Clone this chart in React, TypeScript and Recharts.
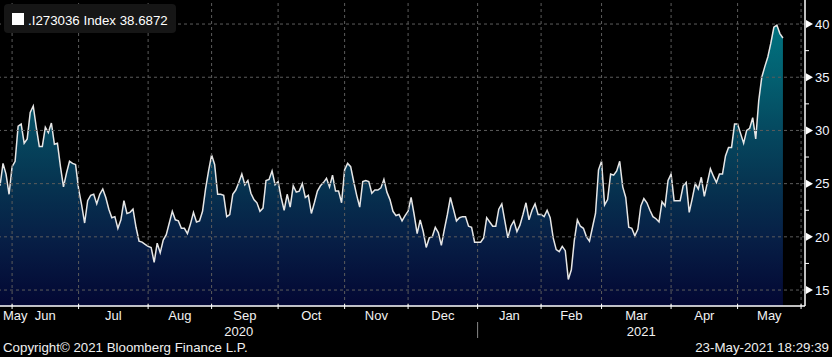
import React from "react";
import { AreaChart, Area, XAxis, YAxis, ReferenceLine } from "recharts";

// Daily (weekday) index values, 26-May-2020 .. 21-May-2021
const values = [
  24.8, 26.9, 25.9, 24.0, 26.6, 27.1, 30.4, 30.6, 28.8, 29.2,
  31.7, 32.3, 30.3, 28.5, 28.5, 30.3, 29.8, 30.7, 28.7, 28.8,
  26.6, 24.7, 26.0, 27.1, 26.9, 26.8, 24.5, 23.0, 21.3, 23.4,
  23.9, 24.0, 23.1, 24.0, 24.5, 23.7, 22.6, 21.8, 21.9, 20.8,
  21.6, 23.4, 22.2, 22.3, 22.6, 20.9, 19.6, 19.5, 19.3, 19.1,
  19.0, 17.6, 19.4, 18.5, 19.7, 20.2, 21.3, 22.4, 21.6, 21.5,
  20.8, 20.8, 20.3, 21.2, 22.3, 21.4, 21.5, 22.4, 24.5, 26.2,
  27.7, 26.8, 24.0, 24.0, 23.9, 21.9, 22.1, 24.0, 24.4, 25.1,
  25.9, 24.9, 25.3, 24.1, 23.5, 23.2, 22.4, 22.7, 25.3, 25.4,
  26.2, 24.9, 25.2, 23.7, 22.5, 24.0, 22.8, 24.8, 24.2, 24.3,
  25.0, 23.7, 23.9, 22.2, 23.2, 24.3, 24.8, 25.1, 25.5, 24.7,
  25.8, 24.3, 24.3, 23.2, 26.3, 26.9, 26.6, 25.2, 23.9, 22.8,
  25.2, 25.3, 25.2, 24.1, 24.4, 24.4, 24.6, 25.4, 24.2, 23.5,
  22.4, 22.0, 22.1, 21.5, 22.0, 22.4, 23.7, 22.1, 20.3, 21.6,
  20.5, 19.0, 19.9, 20.0, 20.9, 20.4, 19.2, 20.7, 22.1, 23.7,
  22.6, 21.5, 21.8, 21.9, 21.9, 21.0, 20.9, 19.5, 19.5, 19.5,
  19.9, 21.8, 21.4, 21.0, 21.0, 22.6, 23.1, 21.5, 19.9, 21.0,
  21.5, 20.5, 21.1, 22.1, 23.2, 21.6, 22.5, 23.1, 22.1, 22.1,
  21.9, 22.5, 21.8, 19.9, 18.8, 18.6, 19.1, 18.7, 16.0, 16.9,
  19.7, 21.6, 21.0, 20.8, 20.0, 19.6, 20.9, 22.2, 26.3, 27.1,
  23.0, 23.5, 25.9, 25.8, 26.2, 27.1, 24.7, 23.7, 20.9, 20.8,
  20.1, 20.7, 22.9, 23.6, 23.2, 22.5, 21.9, 21.7, 21.4, 23.3,
  22.9, 25.3, 25.9, 23.4, 23.4, 23.4, 24.8, 25.1, 22.3, 23.6,
  25.0, 24.5, 25.6, 23.8, 25.1, 26.4, 25.7, 25.1, 25.9, 25.9,
  27.6, 28.4, 28.4, 30.6, 30.6, 29.7, 28.8, 30.0, 30.2, 31.2,
  29.2, 32.8, 35.0, 36.0, 36.9, 38.2, 39.7, 39.9, 39.1, 38.6872,
];

// Weekday index where each month begins (Jun-2020 .. Jun-2021)
const monthStarts = [4, 26, 49, 70, 92, 114, 135, 158, 179, 199, 222, 244, 265];
const monthNames = ["May", "Jun", "Jul", "Aug", "Sep", "Oct", "Nov", "Dec", "Jan", "Feb", "Mar", "Apr", "May"];
const monthLabelPos = [0, 15, 37.5, 59.5, 81, 103, 124.5, 146.5, 168.5, 189, 210.5, 233, 254.5];
const yearNames = ["2020", "2021"];
const yearLabelPos = [79, 212.15];
const yearBreak = 158;
const yMajor = [15, 20, 25, 30, 35, 40];
const yMinor = [17.5, 22.5, 27.5, 32.5, 37.5];
const xDomain = [0, 266.3];
const yDomain = [13.5, 42.26];

const seriesName = ".I273036 Index";
const copyright = "Copyright\u00A9 2021 Bloomberg Finance L.P.";
const timestamp = "23-May-2021 18:29:39";

const data = values.map((v, i) => ({ i, v }));
const FONT = "'Liberation Sans', Arial, sans-serif";

const MonthTickMark = (props: any) => {
  const { x, y } = props;
  return <line x1={x} x2={x} y1={y - 2} y2={y + 3} stroke="#ffffff" strokeWidth={1} />;
};

const MonthLabel = (props: any) => {
  const { x, y, payload } = props;
  const idx = monthLabelPos.indexOf(payload.value);
  const label = monthNames[idx];
  const first = idx === 0;
  return (
    <text
      x={first ? x + 3 : x}
      y={y + 9}
      textAnchor={first ? "start" : "middle"}
      fill="#f2f2f2"
      fontSize={13}
      fontFamily={FONT}
    >
      {label}
    </text>
  );
};

const YearLabel = (props: any) => {
  const { x, y, payload } = props;
  if (payload.value === yearBreak) {
    return <line x1={x} x2={x} y1={y - 5} y2={y + 11} stroke="#8a8a8a" strokeWidth={1} />;
  }
  const idx = yearLabelPos.indexOf(payload.value);
  return (
    <text x={x} y={y + 9} textAnchor="middle" fill="#f2f2f2" fontSize={13} fontFamily={FONT}>
      {yearNames[idx]}
    </text>
  );
};

const YTick = (props: any) => {
  const { x, y, payload } = props;
  if (yMajor.includes(payload.value)) {
    return (
      <g>
        <polygon points={`${x + 1},${y - 4} ${x + 1},${y + 4} ${x + 8},${y}`} fill="#ffffff" />
        <text x={x + 10} y={y + 4.7} fill="#f2f6ff" fontSize={13} fontFamily={FONT} textAnchor="start">
          {payload.value}
        </text>
      </g>
    );
  }
  return <line x1={x} x2={x + 4} y1={y} y2={y} stroke="#ffffff" strokeWidth={1} />;
};

export default function App() {
  return (
    <div
      style={{
        position: "absolute",
        left: 0,
        top: 0,
        width: 832,
        height: 357,
        background: "#000000",
        fontFamily: FONT,
        overflow: "hidden",
      }}
    >
      <AreaChart width={832} height={357} data={data} margin={{ top: 0, right: 0, bottom: 0, left: 0 }}>
        <defs>
          <linearGradient id="fillGrad" x1="0" y1="0" x2="0" y2="1">
            <stop offset="0%" stopColor="#00727f" />
            <stop offset="19%" stopColor="#035f70" />
            <stop offset="38%" stopColor="#05485f" />
            <stop offset="57%" stopColor="#063350" />
            <stop offset="76%" stopColor="#071f46" />
            <stop offset="100%" stopColor="#030733" />
          </linearGradient>
        </defs>
        <XAxis
          xAxisId={0}
          dataKey="i"
          type="number"
          domain={xDomain}
          allowDataOverflow
          ticks={monthStarts}
          interval={0}
          height={5}
          tickSize={0}
          tickMargin={0}
          axisLine={{ stroke: "#ffffff", strokeWidth: 1.5 }}
          tickLine={false}
          tick={<MonthTickMark />}
        />
        <XAxis
          xAxisId="lbl"
          dataKey="i"
          type="number"
          domain={xDomain}
          allowDataOverflow
          ticks={monthLabelPos}
          interval={0}
          height={16}
          tickSize={0}
          tickMargin={0}
          axisLine={false}
          tickLine={false}
          tick={<MonthLabel />}
        />
        <XAxis
          xAxisId="yr"
          dataKey="i"
          type="number"
          domain={xDomain}
          allowDataOverflow
          ticks={[yearLabelPos[0], yearBreak, yearLabelPos[1]]}
          interval={0}
          height={30}
          tickSize={0}
          tickMargin={0}
          axisLine={false}
          tickLine={false}
          tick={<YearLabel />}
        />
        <YAxis
          orientation="right"
          type="number"
          domain={yDomain}
          allowDataOverflow
          ticks={[...yMajor, ...yMinor].sort((a, b) => a - b)}
          interval={0}
          width={27}
          tickSize={0}
          tickMargin={0}
          axisLine={{ stroke: "#ffffff", strokeWidth: 1.5 }}
          tickLine={false}
          tick={<YTick />}
        />
        <Area
          xAxisId={0}
          type="linear"
          dataKey="v"
          stroke="#e6e6e6"
          strokeWidth={1.5}
          fill="url(#fillGrad)"
          fillOpacity={1}
          dot={false}
          activeDot={false}
          isAnimationActive={false}
        />
        {yMajor.map((v) => (
          <ReferenceLine key={`h${v}`} xAxisId={0} y={v} stroke="#5c5c5c" strokeDasharray="3 3" strokeWidth={1} />
        ))}
        {monthStarts.map((m) => (
          <ReferenceLine key={`v${m}`} xAxisId={0} x={m} stroke="#5c5c5c" strokeDasharray="3 3" strokeWidth={1} />
        ))}
      </AreaChart>

      <div
        style={{
          position: "absolute",
          left: 4,
          top: 4,
          width: 172,
          height: 29,
          background: "#161616",
          borderRadius: 4,
        }}
      />
      <div style={{ position: "absolute", left: 12, top: 13, width: 12, height: 12, background: "#ffffff" }} />
      <div
        style={{
          position: "absolute",
          left: 28,
          top: 14,
          fontSize: 13.3,
          lineHeight: "14px",
          color: "#ffffff",
          whiteSpace: "nowrap",
        }}
      >
        {seriesName} {values[values.length - 1].toFixed(4)}
      </div>
      <div
        style={{
          position: "absolute",
          left: 3,
          top: 341,
          fontSize: 13.3,
          lineHeight: "14px",
          color: "#f0f0f0",
          whiteSpace: "nowrap",
        }}
      >
        {copyright}
      </div>
      <div
        style={{
          position: "absolute",
          right: 3,
          top: 341,
          fontSize: 13.3,
          lineHeight: "14px",
          color: "#f0f0f0",
          whiteSpace: "nowrap",
        }}
      >
        {timestamp}
      </div>
    </div>
  );
}
